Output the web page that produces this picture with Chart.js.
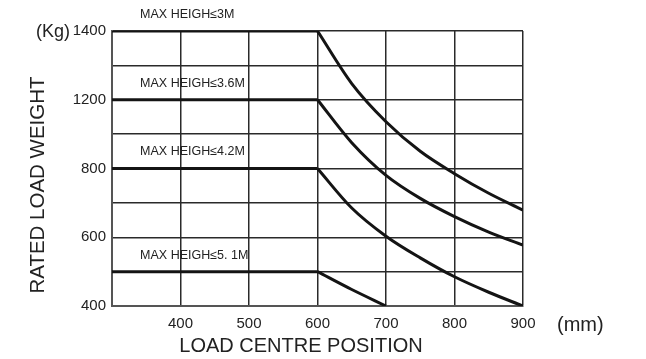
<!DOCTYPE html>
<html>
<head>
<meta charset="utf-8">
<script src="https://cdn.jsdelivr.net/npm/chart.js@4"></script>
<style>
  html, body { margin: 0; padding: 0; background: #fff; }
  #wrap { width: 646px; height: 359px; position: relative; }
</style>
</head>
<body>
<div id="wrap"><canvas id="c" width="646" height="359"></canvas></div>
<script>
// Y axis is drawn in grid levels (0..8); labels are the printed kg values
const yTickLabels = ['400', '', '600', '', '800', '', '1200', '', '1400'];
const xTicks = [300, 400, 500, 600, 700, 800, 900];

// Series (x = load centre mm, y = grid level)
const seriesNames = ['MAX HEIGH≤3M', 'MAX HEIGH≤3.6M', 'MAX HEIGH≤4.2M', 'MAX HEIGH≤5. 1M'];
const s3_0x = [300, 600, 650, 700, 750, 800, 850, 900];
const s3_0y = [8, 8, 6.47, 5.36, 4.5, 3.85, 3.28, 2.79];
const s3_6x = [300, 600, 650, 700, 750, 800, 850, 900];
const s3_6y = [6, 6, 4.75, 3.8, 3.13, 2.6, 2.15, 1.77];
const s4_2x = [300, 600, 650, 700, 750, 800, 850, 900];
const s4_2y = [4, 4, 2.85, 2.03, 1.4, 0.85, 0.4, 0];
const s5_1x = [300, 600, 650, 700];
const s5_1y = [1, 1, 0.48, 0];
const labelLevels = [8.47, 6.46, 4.48, 1.48];
const labelX = 341;

const allX = [s3_0x, s3_6x, s4_2x, s5_1x];
const allY = [s3_0y, s3_6y, s4_2y, s5_1y];

const datasets = [];
allX.forEach((xs, i) => {
  const ys = allY[i];
  const pts = xs.map((x, k) => ({ x: x, y: ys[k] }));
  datasets.push({
    label: seriesNames[i] + ' flat',
    data: pts.slice(0, 2),
    borderColor: '#141414', borderWidth: 3, pointRadius: 0, showLine: true, tension: 0
  });
  datasets.push({
    label: seriesNames[i],
    data: pts.slice(1),
    borderColor: '#141414', borderWidth: 3, pointRadius: 0, showLine: true,
    cubicInterpolationMode: 'monotone'
  });
});

const textPlugin = {
  id: 'texts',
  afterDraw(chart) {
    const ctx = chart.ctx;
    const xs = chart.scales.x, ys = chart.scales.y;
    ctx.save();
    ctx.fillStyle = '#222';
    // series labels
    ctx.font = '12.5px "Liberation Sans", Arial, sans-serif';
    ctx.textAlign = 'left';
    ctx.textBaseline = 'middle';
    seriesNames.forEach((n, i) => {
      ctx.fillText(n, xs.getPixelForValue(labelX), ys.getPixelForValue(labelLevels[i]));
    });
    // (Kg)
    ctx.font = '18px "Liberation Sans Narrow", "Liberation Sans", Arial, sans-serif';
    ctx.textAlign = 'right';
    ctx.fillText('(Kg)', 70, 32);
    // (mm)
    ctx.textAlign = 'left';
    ctx.font = '20px "Liberation Sans Narrow", "Liberation Sans", Arial, sans-serif';
    ctx.fillText('(mm)', 557, 325);
    // x title
    ctx.textAlign = 'center';
    ctx.font = '20px "Liberation Sans", Arial, sans-serif';
    ctx.fillText('LOAD CENTRE POSITION', 301, 346);
    // y title
    ctx.translate(38, 185);
    ctx.rotate(-Math.PI / 2);
    ctx.font = '20.5px "Liberation Sans", Arial, sans-serif';
    ctx.fillText('RATED LOAD WEIGHT', 0, 0);
    ctx.restore();
  }
};

new Chart(document.getElementById('c'), {
  type: 'scatter',
  data: { datasets },
  plugins: [textPlugin],
  options: {
    responsive: false,
    animation: false,
    layout: { padding: { left: 0, right: 123, top: 31, bottom: 0 } },
    plugins: { legend: { display: false }, tooltip: { enabled: false } },
    scales: {
      x: {
        type: 'linear', min: 300, max: 900,
        afterBuildTicks(scale) { scale.ticks = xTicks.map(v => ({ value: v })); },
        afterFit(scale) { scale.height = 53; },
        grid: { color: '#2a2a2a', lineWidth: 1.5, drawTicks: false },
        border: { color: '#555', width: 2 },
        ticks: {
          padding: 9, color: '#222',
          font: { family: '"Liberation Sans", Arial, sans-serif', size: 15 },
          callback: (v) => v === 300 ? '' : String(v), maxRotation: 0, autoSkip: false
        }
      },
      y: {
        type: 'linear', min: 0, max: 8,
        afterBuildTicks(scale) { scale.ticks = yTickLabels.map((l, i) => ({ value: i })); },
        afterFit(scale) { scale.width = 112; },
        grid: { color: '#2a2a2a', lineWidth: 1.5, drawTicks: false },
        border: { color: '#555', width: 2 },
        ticks: {
          padding: 6, color: '#222',
          font: { family: '"Liberation Sans", Arial, sans-serif', size: 15 },
          callback: (v) => yTickLabels[v] || '', autoSkip: false
        }
      }
    }
  }
});
</script>
</body>
</html>
